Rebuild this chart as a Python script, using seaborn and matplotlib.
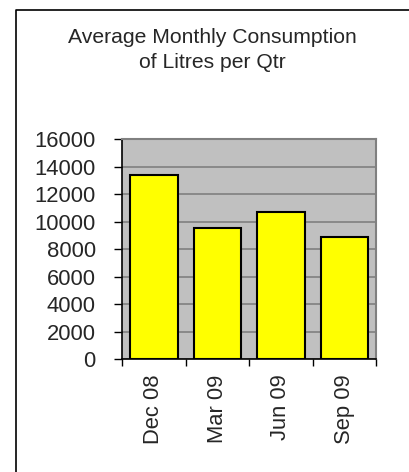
import matplotlib
matplotlib.use("Agg")
import matplotlib.pyplot as plt
from matplotlib.lines import Line2D
import seaborn as sns
import pandas as pd

# data
quarters = ["Dec 08", "Mar 09", "Jun 09", "Sep 09"]
litres = [13350, 9550, 10700, 8850]
y_ticks = [0, 2000, 4000, 6000, 8000, 10000, 12000, 14000, 16000]

df = pd.DataFrame({"quarter": quarters, "litres": litres})

sns.set_style("white")
plt.rcParams["font.family"] = ["Liberation Sans", "DejaVu Sans"]

fig = plt.figure(figsize=(4.10, 4.72), dpi=100)
ax = fig.add_axes([0.2976, 0.2394, 0.620, 0.4661])
ax.set_facecolor("#c0c0c0")

sns.barplot(data=df, x="quarter", y="litres", color="#ffff00", saturation=1,
            edgecolor="black", linewidth=1.5, width=0.75, ax=ax, zorder=3)

ax.set_ylim(0, 16000)
ax.set_xlim(-0.5, len(quarters) - 0.5)
ax.set_yticks(y_ticks)
ax.set_yticklabels([str(v) for v in y_ticks], fontsize=15.8)
ax.yaxis.grid(True, color="#808080", linewidth=1.2, zorder=0)
ax.set_axisbelow(True)

# x ticks sit between categories, labels at the bars
ax.set_xticks([i - 0.5 for i in range(len(quarters) + 1)])
ax.set_xticklabels([])
ax.set_xticks(range(len(quarters)), minor=True)
ax.set_xticklabels(quarters, minor=True, rotation=90, fontsize=15.8)
ax.tick_params(axis="x", which="major", length=5, width=1, color="black", bottom=True)
ax.tick_params(axis="x", which="minor", length=0, pad=11)
ax.tick_params(axis="y", length=6, width=1, color="black", left=True, pad=13)
ax.set_xlabel("")
ax.set_ylabel("")

for side in ["top", "right"]:
    ax.spines[side].set_color("#808080")
    ax.spines[side].set_linewidth(1.5)
for side in ["left", "bottom"]:
    ax.spines[side].set_color("black")
    ax.spines[side].set_linewidth(1.2)

fig.text(0.518, 0.9216, "Average Monthly Consumption", ha="center", va="center", fontsize=15.2)
fig.text(0.518, 0.8686, "of Litres per Qtr", ha="center", va="center", fontsize=15.2)

# outer chart frame (only left and top show in the crop)
fig.add_artist(Line2D([0.039, 0.039, 1.0], [0.0, 0.9788, 0.9788],
                      color="black", linewidth=1.2, transform=fig.transFigure))

fig.savefig("out.png", dpi=100)
